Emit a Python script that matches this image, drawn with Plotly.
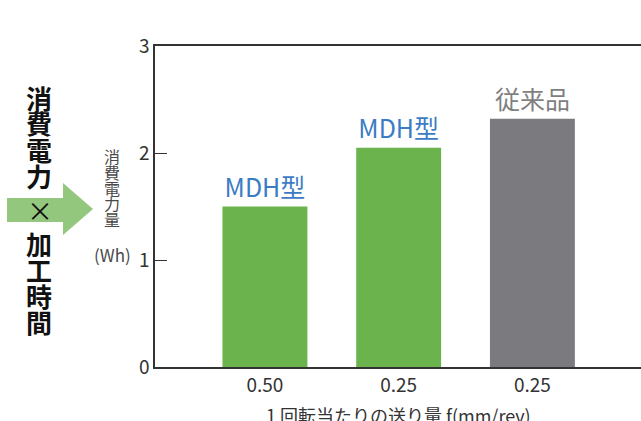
import plotly.graph_objects as go

# data
categories = ["0.50", "0.25", "0.25"]
positions = [0, 1, 2]
values = [1.5, 2.05, 2.32]
bar_labels = ["MDH型", "MDH型", "従来品"]
bar_colors = ["#6ab34d", "#6ab34d", "#7b7a7f"]
label_colors = ["#3b7cc4", "#3b7cc4", "#7f7f7f"]
y_ticks = [0, 1, 2, 3]

W, H = 641, 421
FONT = "Noto Sans CJK JP"

def px(x):
    return x / W

def py(y):
    return 1 - y / H

fig = go.Figure()
fig.add_trace(go.Bar(
    x=positions, y=values, width=0.635,
    marker=dict(color=bar_colors, line=dict(width=0)),
    text=bar_labels, textposition="outside",
    textfont=dict(family=FONT, size=25, color=label_colors),
    cliponaxis=False,
))

annotations = []
# big vertical text on the left
big_top = ["消", "費", "電", "力"]
big_bot = ["加", "工", "時", "間"]
for i, ch in enumerate(big_top):
    annotations.append(dict(x=px(39), y=py(97 + 26 * i), xref="paper", yref="paper",
                            text="<b>" + ch + "</b>", showarrow=False, borderpad=0,
                            font=dict(family=FONT, size=26, color="#111111"),
                            xanchor="center", yanchor="middle"))
for i, ch in enumerate(big_bot):
    annotations.append(dict(x=px(39), y=py(243 + 26.3 * i), xref="paper", yref="paper",
                            text="<b>" + ch + "</b>", showarrow=False, borderpad=0,
                            font=dict(family=FONT, size=26, color="#111111"),
                            xanchor="center", yanchor="middle"))
annotations.append(dict(x=px(40), y=py(209), xref="paper", yref="paper",
                        text="×", showarrow=False, borderpad=0,
                        font=dict(family=FONT, size=26, color="#111111"),
                        xanchor="center", yanchor="middle"))
# small axis title
small = ["消", "費", "電", "力", "量"]
for i, ch in enumerate(small):
    annotations.append(dict(x=px(112), y=py(156 + 15.8 * i), xref="paper", yref="paper",
                            text=ch, showarrow=False, borderpad=0,
                            font=dict(family=FONT, size=16, color="#4a4a4a"),
                            xanchor="center", yanchor="middle"))
annotations.append(dict(x=px(112), y=py(254), xref="paper", yref="paper",
                        text="(Wh)", showarrow=False,
                        font=dict(family=FONT, size=17, color="#4a4a4a"),
                        xanchor="center", yanchor="middle"))
# x title
annotations.append(dict(x=px(398), y=py(415), xref="paper", yref="paper",
                        text="1 回転当たりの送り量 f(mm/rev)", showarrow=False,
                        font=dict(family=FONT, size=18, color="#333333"),
                        xanchor="center", yanchor="middle"))

arrow_path = ("M {x0},{y0} L {x1},{y0} L {x1},{yt} L {x2},{ym} L {x1},{yb} L {x1},{y3} L {x0},{y3} Z"
              .format(x0=px(7), x1=px(63), x2=px(93),
                      y0=py(198), y3=py(222), yt=py(183), yb=py(235), ym=py(209)))

fig.update_layout(
    width=W, height=H,
    margin=dict(l=0, r=0, t=0, b=0, pad=0, autoexpand=False),
    paper_bgcolor="white", plot_bgcolor="white",
    showlegend=False,
    font=dict(family=FONT, color="#333333"),
    xaxis=dict(domain=[155 / W, 1], range=[-0.822, 2.812],
               tickmode="array", tickvals=positions, ticktext=categories,
               tickfont=dict(size=19, color="#333333"),
               showline=True, linecolor="#333333", linewidth=1.5, mirror=True,
               ticks="", showgrid=False, zeroline=False, fixedrange=True,
               automargin=False),
    yaxis=dict(domain=[(H - 367) / H, (H - 46) / H], range=[0, 3],
               tickmode="array", tickvals=y_ticks,
               tickfont=dict(size=19, color="#333333"),
               showline=True, linecolor="#333333", linewidth=1.5,
               ticks="inside", ticklen=12, tickcolor="#333333", tickwidth=1.2,
               showgrid=False, zeroline=False, fixedrange=True,
               automargin=False),
    shapes=[dict(type="path", path=arrow_path, xref="paper", yref="paper",
                 fillcolor="#93c77e", line=dict(width=0), layer="below")],
    annotations=annotations,
)

fig.write_html("out.html", config={"displayModeBar": False},
               post_script="document.body.style.margin='0';document.body.style.overflow='hidden';")
